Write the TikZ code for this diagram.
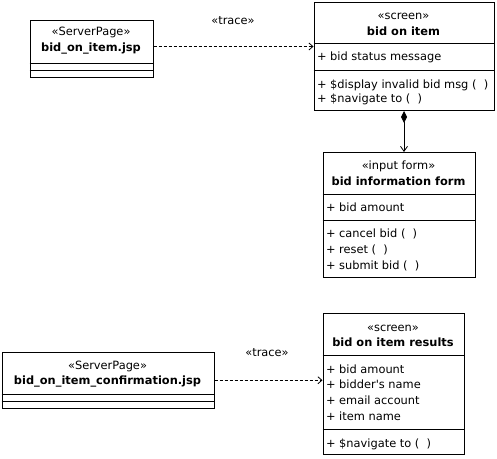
\documentclass[tikz,border=0pt]{standalone}
\usepackage{fontspec}
\setmainfont[Ligatures=ResetAll]{DejaVu Sans}
\usetikzlibrary{arrows.meta}
\begin{document}
\begin{tikzpicture}[x=1pt,y=-1pt,line width=1pt,
  cls/.style={draw,rectangle,anchor=north west,inner sep=0pt,line width=1pt},
  umltxt/.style={inner sep=0pt,font=\fontsize{11.4}{13}\selectfont},
  umlstereo/.style={umltxt,anchor=base},
  umlname/.style={umltxt,anchor=base,font=\fontsize{11.4}{13}\selectfont\bfseries},
  umlitem/.style={umltxt,anchor=base west},
  umltrace/.style={dash pattern=on 3pt off 2pt,-{Straight Barb[length=4pt,width=7pt,line width=0.8pt]}},
  umllbl/.style={umltxt,anchor=base}]
\useasboundingbox (0,0) rectangle (497,458);
% box 1
\node[cls,minimum width=123pt,minimum height=57pt] (jsp1) at (29.5,20) {};
\draw (29.5,63) -- (152.5,63) (29.5,70) -- (152.5,70);
\node[umlstereo] (s1) at (91,35) {«ServerPage»};
\node[umlname] (n1) at (91,51) {bid\_on\_item.jsp};
% box 2
\node[cls,minimum width=180pt,minimum height=108pt] (scr1) at (313.5,2) {};
\draw (313.5,43.5) -- (493.5,43.5) (313.5,70) -- (493.5,70);
\node[umlstereo] (s2) at (403.5,19) {«screen»};
\node[umlname] (n2) at (403.5,35) {bid on item};
\node[umlitem] (a2) at (316.5,60) {+ bid status message};
\node[umlitem] (o2a) at (316.5,88) {+ \$display invalid bid msg (\ \ )};
\node[umlitem] (o2b) at (316.5,102) {+ \$navigate to (\ \ )};
% box 3
\node[cls,minimum width=152pt,minimum height=125pt] (form) at (322.5,152) {};
\draw (322.5,194) -- (474.5,194) (322.5,220.5) -- (474.5,220.5);
\node[umlstereo] (s3) at (398.5,169) {«input form»};
\node[umlname] (n3) at (398.5,185.5) {bid information form};
\node[umlitem] (a3) at (325.5,211.5) {+ bid amount};
\node[umlitem] (o3a) at (325.5,237) {+ cancel bid (\ \ )};
\node[umlitem] (o3b) at (325.5,253) {+ reset (\ \ )};
\node[umlitem] (o3c) at (325.5,269.5) {+ submit bid (\ \ )};
% box 4
\node[cls,minimum width=212pt,minimum height=56.5pt] (jsp2) at (1.5,351.5) {};
\draw (1.5,394) -- (213.5,394) (1.5,401.5) -- (213.5,401.5);
\node[umlstereo] (s4) at (107.5,369) {«ServerPage»};
\node[umlname] (n4) at (107.5,384.5) {bid\_on\_item\_confirmation.jsp};
% box 5
\node[cls,minimum width=141pt,minimum height=141pt] (res) at (322.5,313) {};
\draw (322.5,355) -- (463.5,355) (322.5,429.5) -- (463.5,429.5);
\node[umlstereo] (s5) at (393,331) {«screen»};
\node[umlname] (n5) at (393,346) {bid on item results};
\node[umlitem] (a5a) at (325.5,373) {+ bid amount};
\node[umlitem] (a5b) at (325.5,388.5) {+ bidder\textquotesingle s name};
\node[umlitem] (a5c) at (325.5,404) {+ email account};
\node[umlitem] (a5d) at (325.5,420.5) {+ item name};
\node[umlitem] (o5) at (325.5,447) {+ \$navigate to (\ \ )};
% connectors
\coordinate (t1) at (0,46.5);
\draw[umltrace] (jsp1.east |- t1) -- (scr1.west |- t1);
\node[umllbl] (l1) at (233,24) {«trace»};
\draw[umltrace] (jsp2.east) -- (jsp2.east -| res.west);
\node[umllbl] (l2) at (267,356) {«trace»};
\draw[{Diamond[length=12pt,width=6pt]}-{Straight Barb[length=5pt,width=7pt,line width=0.8pt]}] (scr1.south) -- (scr1.south |- form.north);
\end{tikzpicture}
\end{document}
